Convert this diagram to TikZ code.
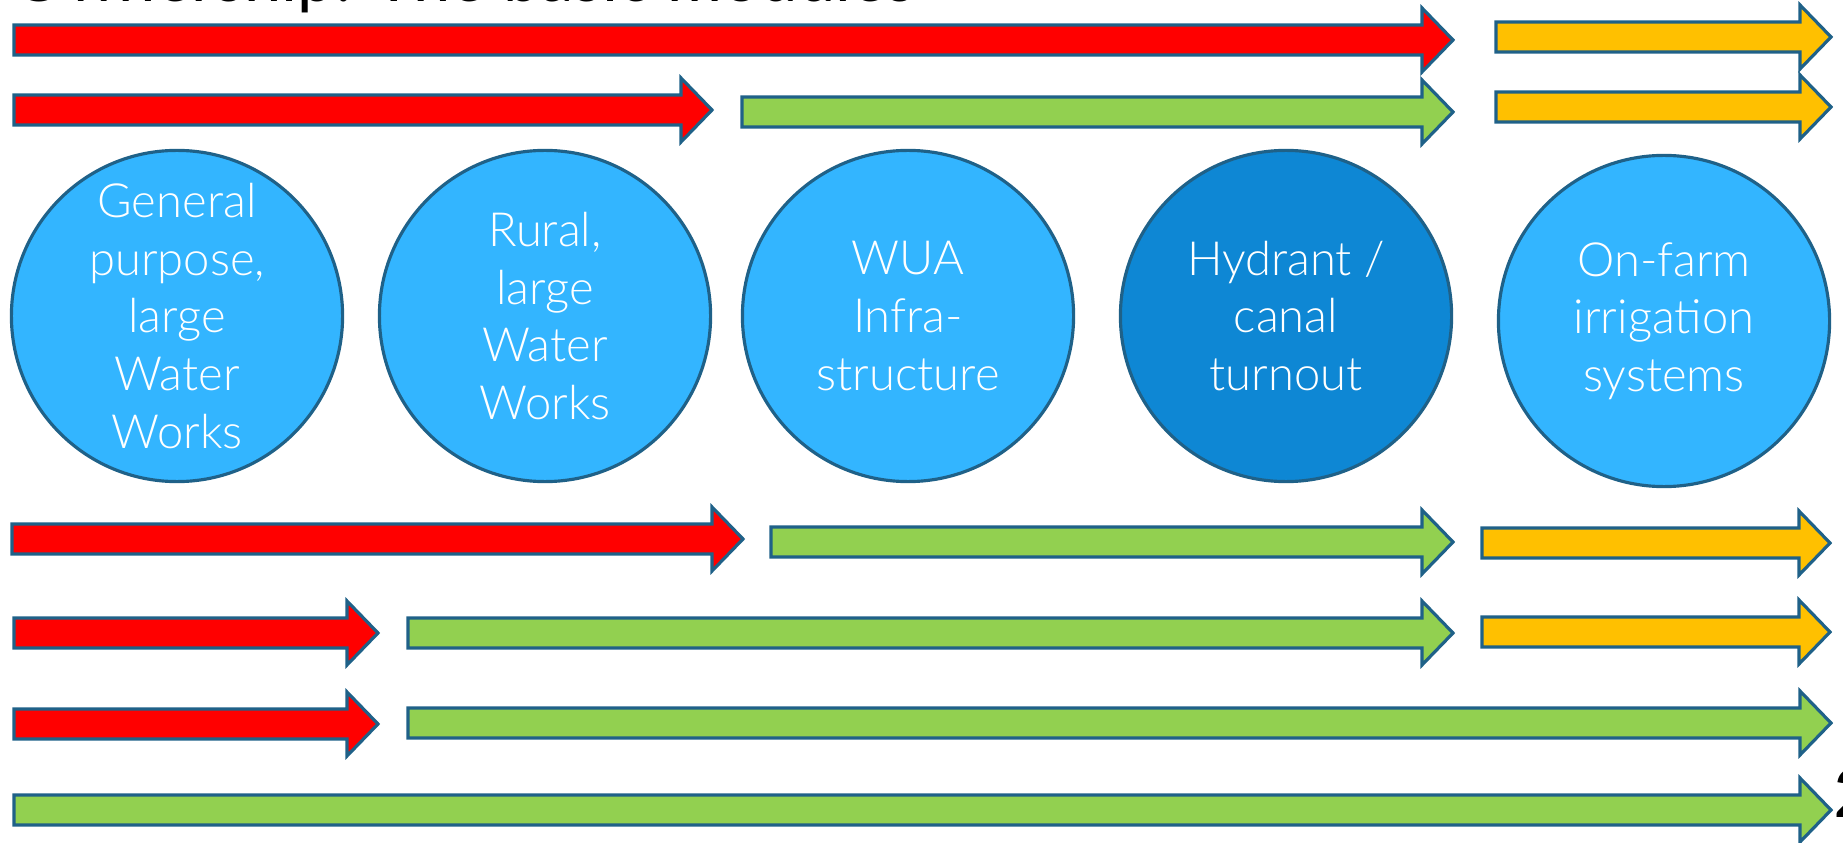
\documentclass[tikz,border=0pt]{standalone}
\usepackage{fontspec}
\setmainfont{Lato Light}
\newfontfamily\headfont{Lato}
\definecolor{edgeblue}{HTML}{1F6188}
\definecolor{flowred}{HTML}{FF0000}
\definecolor{flowgreen}{HTML}{92D050}
\definecolor{flowamber}{HTML}{FFC000}
\definecolor{bubblelight}{HTML}{33B5FF}
\definecolor{bubbledark}{HTML}{0E87D4}
\tikzset{
  flowarrow/.style={draw=edgeblue, line width=0.9pt, line join=miter},
  bubble/.style={circle, draw=edgeblue, line width=0.9pt, minimum size=3.31cm,
    inner sep=0pt, align=center, text=white, font=\fontsize{13.4}{16.4}\selectfont},
}
% block arrow: colour, start x, tip x, centre y
\newcommand\blockarrow[4]{%
  \filldraw[flowarrow, fill=#1] ({#2},{#4-15}) -- ({#3-31},{#4-15}) -- ({#3-31},{#4-32})
    -- ({#3},{#4}) -- ({#3-31},{#4+32}) -- ({#3-31},{#4+15}) -- ({#2},{#4+15}) -- cycle;}
\begin{document}
\begin{tikzpicture}[x=0.01cm, y=-0.01cm]
\useasboundingbox (0,0) rectangle (1843,843);
\clip (0,0) rectangle (1843,843);

% heading, cut at the top edge
\node[anchor=base west, inner sep=0pt, font=\headfont\fontsize{19}{22}\selectfont] (title) at (12,1.5) {Ownership: The basic modules};

% rows above the modules
\blockarrow{flowred}{14}{1453}{40}
\blockarrow{flowamber}{1496}{1831}{37}
\blockarrow{flowred}{14}{712}{110}
\blockarrow{flowgreen}{742}{1453}{112}
\blockarrow{flowamber}{1496}{1831}{107}

% the modules
\node[bubble, fill=bubblelight] (gp)  at (177,316)  {General\\purpose,\\large\\Water\\Works};
\node[bubble, fill=bubblelight] (rur) at (545,316)  {Rural,\\large\\Water\\Works};
\node[bubble, fill=bubblelight] (wua) at (908,316)  {WUA\\Infra-\\structure};
\node[bubble, fill=bubbledark]  (hyd) at (1286,316) {Hydrant /\\canal\\turnout};
\node[bubble, fill=bubblelight] (onf) at (1664,321) {On-farm\\irrigation\\systems};

% rows below the modules
\blockarrow{flowred}{12}{743}{539}
\blockarrow{flowgreen}{771}{1453}{542}
\blockarrow{flowamber}{1482}{1830}{543}
\blockarrow{flowred}{14}{378}{633}
\blockarrow{flowgreen}{408}{1453}{633}
\blockarrow{flowamber}{1482}{1830}{632}
\blockarrow{flowred}{14}{378}{724}
\blockarrow{flowgreen}{408}{1831}{723}
\blockarrow{flowgreen}{14}{1831}{810}

% page number, cut at the right edge
\node[anchor=base west, inner sep=0pt, font=\headfont\bfseries\fontsize{19}{22}\selectfont] (pageno) at (1834,817) {2};
\end{tikzpicture}
\end{document}
